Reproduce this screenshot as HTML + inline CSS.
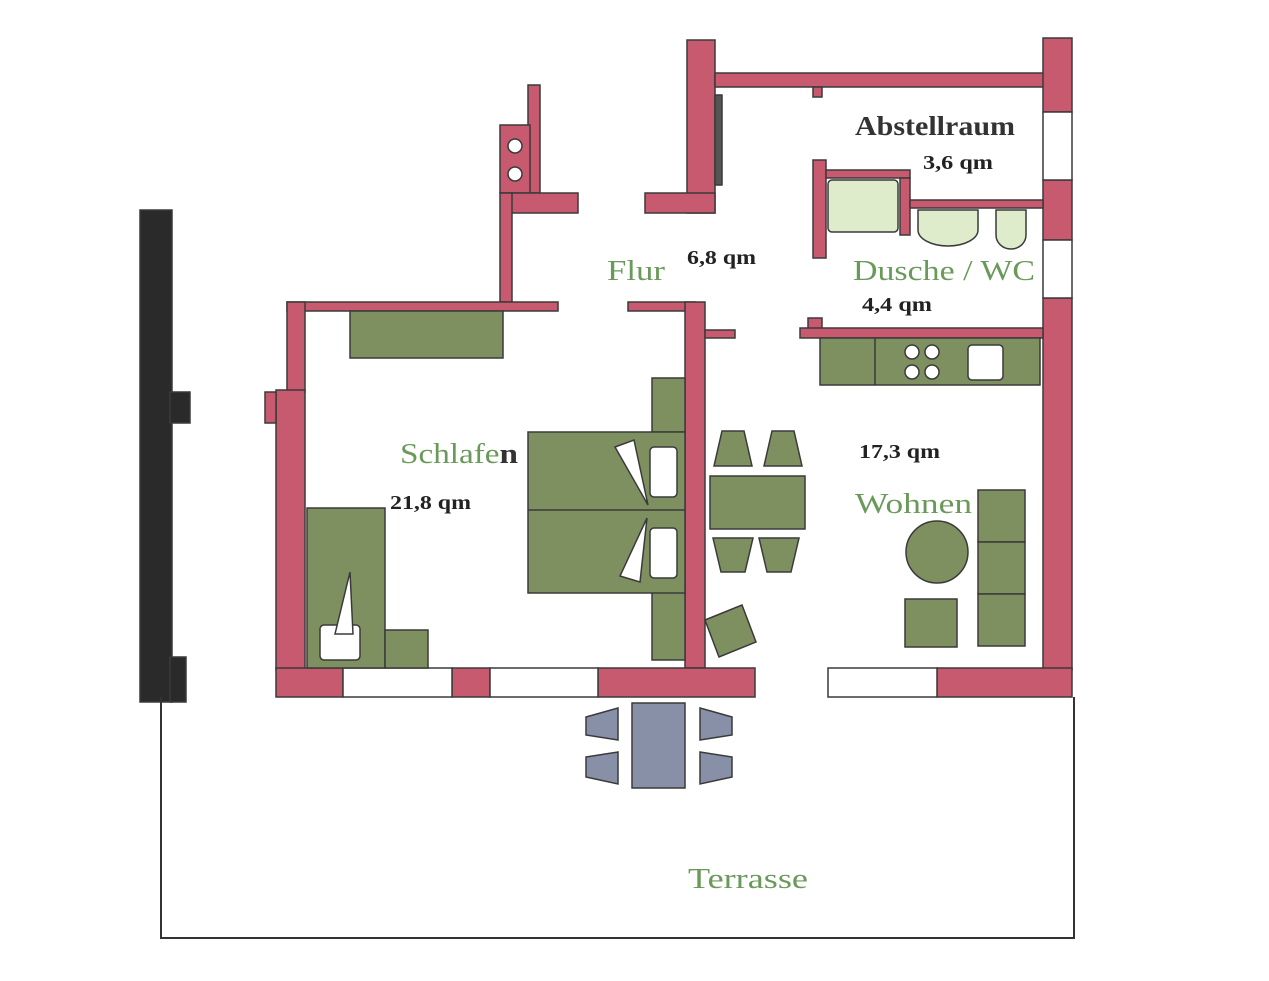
<!DOCTYPE html>
<html><head><meta charset="utf-8"><style>
html,body{margin:0;padding:0;background:#fff;}
svg{display:block}
text{font-family:"Liberation Serif",serif}
</style></head><body>
<svg width="1269" height="981" viewBox="0 0 1269 981" xmlns="http://www.w3.org/2000/svg">
<g stroke="#3a3a3a" stroke-width="1.5">
<g fill="#2a2a2a">
<rect x="140" y="210" width="32" height="492"/>
<rect x="170" y="392" width="20" height="31"/>
<rect x="170" y="657" width="16" height="45"/>
</g>
<g fill="#c85a70">
<rect x="687" y="40" width="28" height="173"/>
<rect x="645" y="193" width="70" height="20"/>
<rect x="715" y="73" width="330" height="14"/>
<rect x="813" y="87" width="9" height="10"/>
<rect x="1043" y="38" width="29" height="74"/>
<rect x="1043" y="180" width="29" height="60"/>
<rect x="1043" y="298" width="29" height="372"/>
<rect x="528" y="85" width="12" height="108"/>
<rect x="500" y="125" width="30" height="68"/>
<rect x="510" y="193" width="68" height="20"/>
<rect x="500" y="193" width="12" height="109"/>
<rect x="287" y="302" width="271" height="9"/>
<rect x="287" y="302" width="18" height="90"/>
<rect x="276" y="390" width="29" height="280"/>
<rect x="265" y="392" width="11" height="31"/>
<rect x="628" y="302" width="67" height="9"/>
<rect x="685" y="302" width="20" height="366"/>
<rect x="705" y="330" width="30" height="8"/>
<rect x="808" y="318" width="14" height="12"/>
<rect x="800" y="328" width="243" height="10"/>
<rect x="813" y="160" width="13" height="98"/>
<rect x="826" y="170" width="84" height="8"/>
<rect x="900" y="178" width="10" height="57"/>
<rect x="910" y="200" width="133" height="8"/>
<rect x="276" y="668" width="67" height="29"/>
<rect x="452" y="668" width="38" height="29"/>
<rect x="598" y="668" width="157" height="29"/>
<rect x="937" y="668" width="135" height="29"/>
</g>
<g fill="#fff">
<rect x="343" y="668" width="109" height="29"/>
<rect x="490" y="668" width="108" height="29"/>
<rect x="828" y="668" width="109" height="29"/>
<rect x="1043" y="112" width="29" height="68"/>
<rect x="1043" y="240" width="29" height="58"/>
<circle cx="515" cy="146" r="7"/><circle cx="515" cy="174" r="7"/>
</g>
<rect x="715" y="95" width="7" height="90" fill="#555"/>
<g fill="#dfeccc">
<rect x="828" y="180" width="70" height="52" rx="4"/>
<path d="M918 210 h60 v20 a30 16 0 0 1 -60 0z"/>
<path d="M996 210 h30 v25 a15 14 0 0 1 -30 0z"/>
</g>
<g fill="#7f9060">
<rect x="350" y="311" width="153" height="47"/>
<rect x="652" y="378" width="33" height="54"/>
<rect x="652" y="590" width="33" height="70"/>
<rect x="528" y="432" width="157" height="161"/>
<rect x="307" y="508" width="78" height="160"/>
<rect x="385" y="630" width="43" height="38"/>
<rect x="710" y="476" width="95" height="53"/>
<polygon points="722,431 744,431 752,466 714,466"/>
<polygon points="772,431 794,431 802,466 764,466"/>
<polygon points="713,538 753,538 745,572 721,572"/>
<polygon points="759,538 799,538 791,572 767,572"/>
<polygon points="705,620 742,605 756,642 719,657"/>
<rect x="820" y="338" width="220" height="47"/>
<circle cx="937" cy="552" r="31"/>
<rect x="905" y="599" width="52" height="48"/>
<rect x="978" y="490" width="47" height="52"/>
<rect x="978" y="542" width="47" height="52"/>
<rect x="978" y="594" width="47" height="52"/>
</g>
<line x1="528" y1="510" x2="685" y2="510"/>
<line x1="875" y1="338" x2="875" y2="385"/>
<g fill="#fff">
<rect x="650" y="447" width="27" height="50" rx="4"/>
<rect x="650" y="528" width="27" height="50" rx="4"/>
<polygon points="615,447 634,440 648,505"/>
<polygon points="647,518 640,582 620,576"/>
<rect x="320" y="625" width="40" height="35" rx="4"/>
<polygon points="335,634 350,572 353,634"/>
<rect x="968" y="345" width="35" height="35" rx="4"/>
<circle cx="912" cy="352" r="7"/><circle cx="932" cy="352" r="7"/>
<circle cx="912" cy="372" r="7"/><circle cx="932" cy="372" r="7"/>
</g>
<g fill="#8890a8">
<rect x="632" y="703" width="53" height="85"/>
<polygon points="586,717 618,708 618,740 586,735"/>
<polygon points="586,757 618,752 618,784 586,777"/>
<polygon points="700,708 732,717 732,735 700,740"/>
<polygon points="700,752 732,757 732,777 700,784"/>
</g>
</g>
<polyline points="161,697 161,938 1074,938 1074,697" fill="none" stroke="#333" stroke-width="2"/>
<g fill="#222" font-size="20" font-weight="bold" stroke="none">
<text x="855" y="135" font-size="27" fill="#333" textLength="160" lengthAdjust="spacingAndGlyphs">Abstellraum</text>
<text x="923" y="169" textLength="70" lengthAdjust="spacingAndGlyphs">3,6 qm</text>
<text x="687" y="264" textLength="69" lengthAdjust="spacingAndGlyphs">6,8 qm</text>
<text x="862" y="311" textLength="70" lengthAdjust="spacingAndGlyphs">4,4 qm</text>
<text x="390" y="509" textLength="81" lengthAdjust="spacingAndGlyphs">21,8 qm</text>
<text x="859" y="458" textLength="81" lengthAdjust="spacingAndGlyphs">17,3 qm</text>
</g>
<g fill="#6a9a5a" font-size="29">
<text x="607" y="280" textLength="58" lengthAdjust="spacingAndGlyphs">Flur</text>
<text x="853" y="280" textLength="182" lengthAdjust="spacingAndGlyphs">Dusche / WC</text>
<text x="400" y="463" textLength="118" lengthAdjust="spacingAndGlyphs">Schlafe<tspan fill="#333" font-weight="bold">n</tspan></text>
<text x="855" y="513" textLength="117" lengthAdjust="spacingAndGlyphs">Wohnen</text>
<text x="688" y="888" textLength="120" lengthAdjust="spacingAndGlyphs">Terrasse</text>
</g>
</svg>
</body></html>
